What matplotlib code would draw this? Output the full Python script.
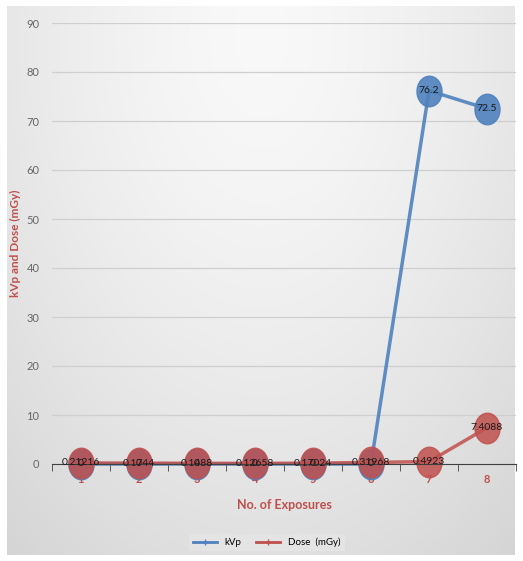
import numpy as np
import matplotlib
matplotlib.use('Agg')
import matplotlib.pyplot as plt
from matplotlib.path import Path
from matplotlib.transforms import Affine2D

plt.rcParams['font.family'] = ['Lato', 'DejaVu Sans']

# exposure data
exposures = ['1', '2', '3', '4', '5', '6', '7', '8']
kvp = [0, 0, 0, 0, 0, 0, 76.2, 72.5]
dose = [0.21216, 0.1744, 0.1488, 0.12658, 0.17024, 0.31968, 0.4923, 7.4088]
kvp_labels = ['0', '0', '0', '0', '0', '0', '76.2', '72.5']
dose_labels = ['0.21216', '0.1744', '0.1488', '0.12658', '0.17024', '0.31968', '0.4923', '7.4088']

blue = '#4f81bd'
red = '#c0504d'

fig = plt.figure(figsize=(5.23, 5.61), dpi=100)

# grey gradient panel behind the chart
bg = fig.add_axes([7/523, 6/561, 508/523, 549/561], zorder=0)
yy, xx = np.mgrid[0:1:300j, 0:1:300j]
r = np.sqrt(((xx - 0.5) / 0.8) ** 2 + ((yy - 0.05) / 1.2) ** 2)
shade = np.clip(0.975 - 0.14 * r ** 1.5, 0.83, 0.975)
bg.imshow(np.dstack([shade] * 3), extent=[0, 1, 0, 1], aspect='auto', interpolation='bicubic')
bg.axis('off')

ax = fig.add_axes([52/523, 97/561, 464/523, 441/561], zorder=1)
ax.patch.set_alpha(0)

# slightly tall oval marker
oval = Path.unit_circle().transformed(Affine2D().scale(0.82, 1.0))

x = np.arange(len(exposures))
ax.plot(x, kvp, color=blue, lw=2.5, marker=oval, ms=22, mfc=blue, mec=blue,
        alpha=0.9, clip_on=False, zorder=3, label='kVp')
ax.plot(x, dose, color=red, lw=2.5, marker=oval, ms=22, mfc=red, mec=red,
        alpha=0.85, clip_on=False, zorder=4, label='Dose  (mGy)')

for xi, v, t in zip(x, kvp, kvp_labels):
    ax.text(xi, v, t, ha='center', va='center', fontsize=7.5, color='#1a1a1a', zorder=6)
for xi, v, t in zip(x, dose, dose_labels):
    ax.text(xi, v, t, ha='center', va='center', fontsize=7.5, color='#1a1a1a', zorder=6)

ax.set_xlim(-0.5, len(exposures) - 0.5)
ax.set_ylim(0, 90)
ax.set_yticks(range(0, 91, 10))
ax.set_xticks(x)
ax.set_xticklabels(exposures, color=red, fontsize=8, fontweight='bold')
ax.set_xticks(np.arange(-0.5, len(exposures)), minor=True)
ax.tick_params(axis='x', which='major', length=0, pad=7)
ax.tick_params(axis='x', which='minor', length=5, color='#404040', direction='out')
ax.tick_params(axis='y', length=0, labelsize=8, labelcolor='#666666', pad=9)
ax.grid(axis='y', color='#cfcfcf', lw=0.9)
ax.set_axisbelow(True)
for s in ['top', 'right', 'left']:
    ax.spines[s].set_visible(False)
ax.spines['bottom'].set_color('#404040')
ax.spines['bottom'].set_zorder(5)

ax.set_xlabel('No. of Exposures', color=red, fontsize=9, fontweight='bold', labelpad=10)
ax.set_ylabel('kVp and Dose (mGy)', color=red, fontsize=8.5, fontweight='bold', labelpad=4)

handles, labels = ax.get_legend_handles_labels()
leg_handles = [plt.Line2D([], [], color=blue, lw=2, marker='+', ms=5),
               plt.Line2D([], [], color=red, lw=2, marker='+', ms=5)]
fig.legend(leg_handles, labels, loc='center', bbox_to_anchor=(0.51, 0.033),
           ncol=2, fontsize=7, frameon=True, facecolor='#e4e4e4', edgecolor='none',
           framealpha=1, fancybox=False, handlelength=2.5, columnspacing=1.5)

fig.savefig('out.png', dpi=100)
